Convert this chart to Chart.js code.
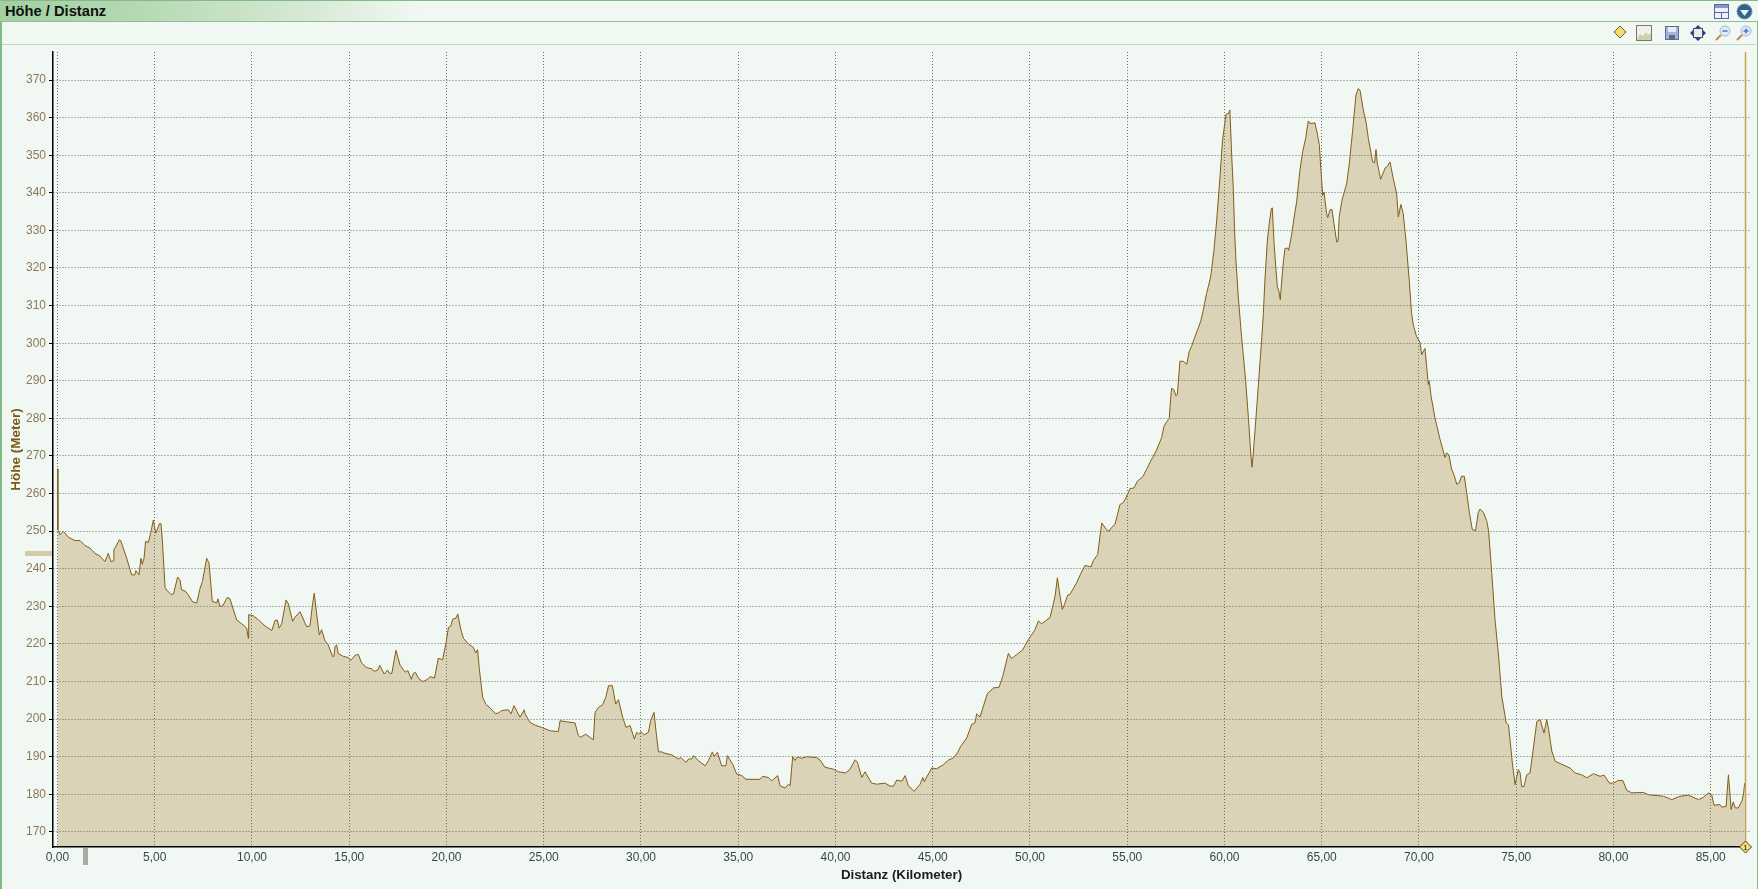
<!DOCTYPE html>
<html lang="de">
<head>
<meta charset="UTF-8">
<title>Höhe / Distanz</title>
<script src="https://cdn.jsdelivr.net/npm/chart.js"></script>
<style>
  html, body { margin: 0; padding: 0; background: #f1f8f3; overflow: hidden; }
  #wrap { position: relative; width: 1758px; height: 889px; }
  #frame { position: absolute; left: 0; top: 0; width: 1755px; height: 888px; border: 1px solid #82bb84; border-bottom: none; border-left-width: 2px; box-sizing: content-box; }
  #titlebar { position: absolute; left: 0; top: 1px; width: 1758px; height: 20px; border-bottom: 1px solid #8fbf90;
    background: linear-gradient(to right, #a3cfa3 0, #b4d8b2 130px, #d5e8d3 300px, #f1f8f3 420px); }
  #titlebar span { position: absolute; left: 5px; top: 2px; font: bold 14.7px "Liberation Sans", Arial, sans-serif; color: #0c120c; }
  #toolbar { position: absolute; left: 2px; top: 22px; width: 1754px; height: 22px; border-bottom: 1px solid #c0d8c4; }
  canvas { position: absolute; left: 0; top: 0; }
  #leftbar { position: absolute; left: 25px; top: 551px; width: 27px; height: 5px; background: #d3c9ab; }
  #bottombar { position: absolute; left: 83px; top: 848px; width: 5px; height: 17px; background: #a9aca6; }
  svg { position: absolute; }
</style>
</head>
<body>
<div id="wrap">
  <div id="frame"></div>
  <div id="titlebar"><span>Höhe / Distanz</span></div>
  <div id="toolbar"></div>
  <canvas id="profil" width="1758" height="889"></canvas>
  <div id="leftbar"></div>
  <div id="bottombar"></div>

  <!-- Symbole oben rechts -->
  <svg style="left:1714px;top:4px" width="15" height="15"><rect x="0.5" y="0.5" width="14" height="14" fill="#eef1fb" stroke="#5a64ac"/><rect x="1" y="1" width="13" height="3" fill="#8a93cc"/><path d="M1 8.5H14M7.5 8.5V14" stroke="#5a64ac"/></svg>
  <svg style="left:1736px;top:3px" width="17" height="17"><circle cx="8.5" cy="8.5" r="7.5" fill="#33628c" stroke="#6d8fae"/><path d="M4 7H13L8.5 13Z" fill="#e6f1fa"/></svg>
  <svg style="left:1613px;top:25px" width="14" height="14"><path d="M7 1L13 7L7 13L1 7Z" fill="#f6dc6e" stroke="#6e5a20"/></svg>
  <svg style="left:1636px;top:25px" width="16" height="16"><rect x="0.5" y="0.5" width="15" height="15" fill="#f0f2ea" stroke="#77776c"/><path d="M1 14L4 9L7 11L10 7L12 10L15 8V15H1Z" fill="#cfd0ad"/></svg>
  <svg style="left:1665px;top:26px" width="14" height="14"><rect x="0.5" y="0.5" width="13" height="13" fill="#a3b4d2" stroke="#5a6d99"/><rect x="3" y="1" width="8" height="5" fill="#e6ecf6"/><rect x="4" y="9" width="6" height="4" fill="#5d6a84"/></svg>
  <svg style="left:1690px;top:25px" width="16" height="16"><rect x="3.5" y="3.5" width="9" height="9" fill="#e8f0dc" stroke="#3c4c8a"/><path d="M8 0L11 3H5ZM8 16L5 13H11ZM0 8L3 5V11ZM16 8L13 11V5Z" fill="#2f3c80"/></svg>
  <svg style="left:1715px;top:25px" width="16" height="16"><circle cx="10" cy="6" r="5" fill="#dcebf7" stroke="#9db8d6"/><path d="M7.5 6H12.5" stroke="#4a79b4" stroke-width="1.5"/><path d="M6 10L1 15" stroke="#c08a4a" stroke-width="2"/></svg>
  <svg style="left:1736px;top:25px" width="16" height="16"><circle cx="10" cy="6" r="5" fill="#dcebf7" stroke="#9db8d6"/><path d="M7.5 6H12.5M10 3.5V8.5" stroke="#4a79b4" stroke-width="1.5"/><path d="M6 10L1 15" stroke="#c08a4a" stroke-width="2"/></svg>
</div>

<script>
// Werte
const distanz = [0,0.02,0.13,0.3,0.56,0.9,1.16,1.41,1.67,1.93,2.18,2.44,2.61,2.75,2.87,2.9,3.18,3.25,3.56,3.81,3.98,4.03,4.19,4.29,4.36,4.45,4.53,4.67,4.79,4.93,5.05,5.13,5.24,5.32,5.39,5.53,5.61,5.82,5.96,6.18,6.3,6.38,6.56,6.73,6.95,7.16,7.33,7.45,7.67,7.79,7.96,8.1,8.18,8.25,8.35,8.49,8.73,8.87,9.21,9.47,9.73,9.81,9.83,10.07,10.33,10.67,11.02,11.18,11.3,11.4,11.53,11.75,11.87,12.09,12.21,12.47,12.81,12.98,13.1,13.2,13.32,13.46,13.58,13.75,13.92,14.14,14.21,14.27,14.35,14.44,14.7,14.95,15.07,15.3,15.47,15.64,15.9,16.16,16.28,16.47,16.57,16.8,16.97,17.07,17.19,17.4,17.62,17.88,18.02,18.19,18.3,18.41,18.56,18.78,18.99,19.16,19.38,19.58,19.8,19.98,20.1,20.22,20.32,20.49,20.58,20.73,20.87,21.13,21.38,21.5,21.6,21.69,21.86,22.02,22.24,22.53,22.72,22.84,23.18,23.32,23.47,23.78,24,24.04,24.3,24.56,24.9,25.33,25.75,25.84,26.18,26.61,26.78,26.9,27.16,27.55,27.64,27.81,28.02,28.19,28.33,28.53,28.7,28.84,29.06,29.23,29.44,29.66,29.78,29.88,30,30.16,30.38,30.5,30.67,30.78,30.9,31.07,31.19,31.58,31.92,32.04,32.32,32.44,32.61,32.7,32.95,33.3,33.47,33.67,33.76,33.93,34.15,34.37,34.44,34.72,34.92,35.18,35.4,36.12,36.26,36.55,36.72,37.03,37.15,37.41,37.58,37.67,37.8,37.92,38.04,38.26,38.52,39.03,39.2,39.46,39.89,40.15,40.53,40.75,41.01,41.13,41.35,41.52,41.86,42.12,42.55,42.8,42.98,43.15,43.41,43.58,43.75,44.04,44.35,44.49,44.56,44.95,45.2,45.55,45.8,46.06,46.27,46.44,46.75,47,47.17,47.26,47.43,47.81,48.12,48.41,48.6,48.89,49.06,49.32,49.62,49.92,50.26,50.43,50.6,51.03,51.15,51.29,51.41,51.51,51.66,51.77,51.94,52.06,52.4,52.61,52.83,53.14,53.26,53.48,53.6,53.69,53.94,54.06,54.2,54.37,54.63,54.77,54.89,55.14,55.35,55.52,55.8,56,56.17,56.31,56.51,56.77,56.89,57.03,57.16,57.23,57.28,57.4,57.51,57.58,57.71,57.88,58.06,58.18,58.31,58.48,58.77,58.91,59.08,59.29,59.46,59.6,59.77,59.9,60.08,60.2,60.28,60.37,60.45,60.52,60.59,60.71,60.88,61.09,61.23,61.36,61.41,61.47,61.62,61.74,61.91,62,62.08,62.2,62.3,62.41,62.46,62.55,62.65,62.72,62.79,62.87,62.96,63.03,63.11,63.25,63.3,63.45,63.57,63.71,63.88,64.02,64.17,64.31,64.4,64.65,64.79,64.88,64.96,65.05,65.12,65.25,65.31,65.43,65.53,65.63,65.77,65.84,65.9,66.04,66.28,66.42,66.59,66.76,66.88,66.97,67.14,67.28,67.4,67.62,67.72,67.79,67.86,68.03,68.27,68.37,68.51,68.68,68.85,68.94,69.07,69.19,69.33,69.5,69.62,69.71,69.88,70.05,70.14,70.31,70.48,70.53,70.62,70.82,71.08,71.34,71.42,71.54,71.68,71.82,71.94,72.06,72.19,72.33,72.45,72.59,72.74,72.91,73.05,73.14,73.31,73.48,73.58,73.74,73.91,74.08,74.26,74.43,74.48,74.6,74.69,74.8,74.94,75.11,75.2,75.28,75.4,75.54,75.71,75.85,76.06,76.23,76.43,76.57,76.67,76.83,77,77.26,77.51,77.77,78.03,78.37,78.63,78.97,79.31,79.52,79.79,80,80.25,80.48,80.68,80.94,81.54,81.8,82.57,83,83.42,83.85,84.37,84.62,84.88,85.05,85.17,85.48,85.57,85.79,85.91,86.05,86.16,86.26,86.42,86.6,86.68,86.75];
const hoehe = [266.6,250.5,249,250,248.4,247.5,247.5,246.2,245.5,244.1,243.4,241.9,244.1,241.9,242.1,245,247.7,247.5,242.8,238.4,238.4,239.5,238.4,242.8,241.2,242.8,247.3,247,249.5,253,249.5,250.4,252,252,247.7,235.1,234.4,233.2,233.3,237.8,237,234.4,234.1,233,231.2,230.9,234.8,236.6,242.8,241.5,231.3,231.1,230.9,232,230,230.1,232.4,232,226.4,225.4,224.2,221.5,227.8,227.5,226.4,224.8,223.6,226.2,226.4,224.2,225.4,231.7,230.7,226,227.1,228.6,224.6,224.8,230,233.5,228.2,222.4,223.8,220.9,219.8,216.7,216.7,219.3,219.8,217.4,216.7,216.4,215.6,217,217.2,214.9,213.7,213.4,212.7,213.1,214.3,212,213.1,212.2,212.2,218.3,214.3,212.5,212.9,210.6,212.2,212.4,210.9,210,210.5,211.3,210.9,216.2,215.8,220.4,224.4,224.7,226.6,226.9,228,224,221.5,220,219.1,217.6,218.5,213.3,205.8,204,203,201.4,201.8,202.3,202.5,201.4,203.6,200.5,202.5,201.4,199.1,198.4,197.8,196.9,196.7,199.6,199.3,199,195.6,195.2,196,194.5,201.8,203.1,203.8,205.8,208.9,208.9,204,205.2,200.5,197.8,198.3,194.7,196.5,196,196.7,195.8,196.5,199.6,201.8,196.5,191.3,191.3,191,190.5,189.4,189.8,188.5,189.4,189.4,190.3,189,187.6,189,191.3,190.1,191.2,187.6,187.6,190.3,188,185.4,185,184,184,184.8,184.5,183.6,185,182.3,181.7,182.7,182.3,190.1,189,190,189.6,190,189.8,189.2,187.2,186.7,186,185.7,186.7,189.2,188.5,184.5,186,183,182.7,183,182.2,182.2,183.8,183.5,185,182.3,180.8,182.7,184.5,183.4,187,186.8,187.9,189.1,189.7,191,192.8,195,198.6,199,201.4,200.6,206.8,208.3,208.5,211.4,217.5,216.1,217.2,218.4,221.2,223.8,226.1,225.4,227,229.6,232.7,237.6,234,229.2,230.5,233,233.2,236.3,238.7,240.9,240.5,242.2,243.8,248.7,252.2,250.4,250,251,251.8,257.1,257.5,258.4,261.3,261.5,263.3,264.5,266.5,268.3,269.6,271.6,274.9,277.9,279.1,280,285.1,288,287.6,286,286.5,295.2,295.2,294.4,297.7,299.2,301.7,305.7,308.8,313.2,317.6,324.7,332.7,344.2,354,360.9,361.1,362,350,341.6,330,322,312.3,301.7,290,280.2,270,267,270,280.2,288.7,300.8,307.9,316.8,326.9,331.8,335.8,336,326.5,319.4,315,314,311.6,317.6,321.6,325.2,325.3,324.7,328.7,333.1,337.6,346,350.9,354.4,359.1,358.4,358.6,355.3,352.6,346,339.3,340.2,334.5,333.4,335.5,335.5,331.8,326.9,327.1,333.6,338,342.4,347.8,356.6,366,367.7,367.3,362,358.8,354.4,348.2,348,351.5,347.8,343.6,346.7,347,348.2,343.8,339.8,333.6,336.9,334.5,327.4,316.7,307.9,304.8,301.7,300.3,297,298.6,289,290,286,280.2,274.5,269.6,270.8,270.3,266.5,264.7,262.5,262.8,264.6,264.6,260.3,255,250.5,250.1,255,255.9,255,252.8,250.1,239,226.5,217.6,206,200.8,199,198.5,194.1,188.4,182.6,186.6,185.7,182.1,182.1,185.2,185.7,191,199.4,199.9,196.3,199.9,197.2,191.5,188.8,188.2,187.6,187,185.7,185.2,184.4,185.5,184.8,185.1,183,183,183.7,183.7,181.1,180.4,180.5,179.9,179.5,178.6,179.5,179.8,178.6,179.2,180.4,179.9,177.1,177.3,176.6,176.8,185.2,176,178,176.4,176.4,178.2,179.9,183];

const yTicks = [170,180,190,200,210,220,230,240,250,260,270,280,290,300,310,320,330,340,350,360,370];
const xTicks = [0,5,10,15,20,25,30,35,40,45,50,55,60,65,70,75,80,85];
const cursorKm = 86.76;

// Markierung am Ende der Strecke
const cursorPlugin = {
  id: 'cursor',
  afterDraw(chart) {
    const c = chart.ctx;
    const x = Math.round(chart.scales.x.getPixelForValue(cursorKm)) + 0.5;
    const top = chart.chartArea.top, bottom = chart.chartArea.bottom;
    c.save();
    c.strokeStyle = '#c9a04c';
    c.lineWidth = 1.5;
    c.beginPath(); c.moveTo(x, top); c.lineTo(x, bottom); c.stroke();
    c.lineWidth = 1;
    c.fillStyle = '#f4dd78';
    c.strokeStyle = '#4a3f1c';
    c.beginPath();
    c.moveTo(x, bottom - 6); c.lineTo(x + 6, bottom); c.lineTo(x, bottom + 6); c.lineTo(x - 6, bottom); c.closePath();
    c.fill(); c.stroke();
    c.fillStyle = '#222';
    c.font = '8px "Liberation Sans"';
    c.textAlign = 'center'; c.textBaseline = 'middle';
    c.fillText('1', x, bottom + 0.5);
    c.restore();
  }
};

new Chart(document.getElementById('profil').getContext('2d'), {
  type: 'line',
  data: {
    datasets: [{
      data: distanz.map((d, i) => ({ x: d, y: hoehe[i] })),
      borderColor: '#825c14',
      backgroundColor: '#dbd3b8',
      borderWidth: 1,
      fill: 'start',
      tension: 0,
      pointRadius: 0
    }]
  },
  options: {
    responsive: false,
    animation: false,
    parsing: false,
    layout: { padding: { left: 0, right: 8, top: 52, bottom: 0 } },
    plugins: { legend: { display: false }, tooltip: { enabled: false } },
    scales: {
      x: {
        type: 'linear',
        min: -0.231,
        max: 87.02,
        afterBuildTicks: s => { s.ticks = xTicks.map(v => ({ value: v })); },
        afterFit: s => { s.height = 42; },
        ticks: {
          autoSkip: false, maxRotation: 0, padding: 3,
          color: '#3a4650',
          font: { family: '"Liberation Sans"', size: 12 },
          callback: v => v.toFixed(2).replace('.', ',')
        },
        grid: { color: '#6c6c6c', z: 1, drawTicks: false },
        border: { color: '#000', width: 1.5, dash: [1, 2], z: 2 },
        title: {
          display: true, text: 'Distanz (Kilometer)', color: '#1d1d1d',
          font: { family: '"Liberation Sans"', size: 13.3, weight: 'bold' },
          padding: { top: 1, bottom: 6 }
        }
      },
      y: {
        min: 166,
        max: 377.45,
        afterBuildTicks: s => { s.ticks = yTicks.map(v => ({ value: v })); },
        afterFit: s => { s.width = 53; },
        ticks: {
          padding: 3,
          color: '#8b7a58',
          font: { family: '"Liberation Sans"', size: 12 }
        },
        grid: { color: '#6c6c6c', z: 1, tickLength: 4, tickColor: '#000', tickBorderDash: [] },
        border: { color: '#000', width: 1.5, dash: [1, 2], z: 2 },
        title: {
          display: true, text: 'Höhe (Meter)', color: '#7a5a14',
          font: { family: '"Liberation Sans"', size: 13.5, weight: 'bold' },
          padding: { top: 8, bottom: 2 }
        }
      }
    }
  },
  plugins: [cursorPlugin]
});
</script>
</body>
</html>
